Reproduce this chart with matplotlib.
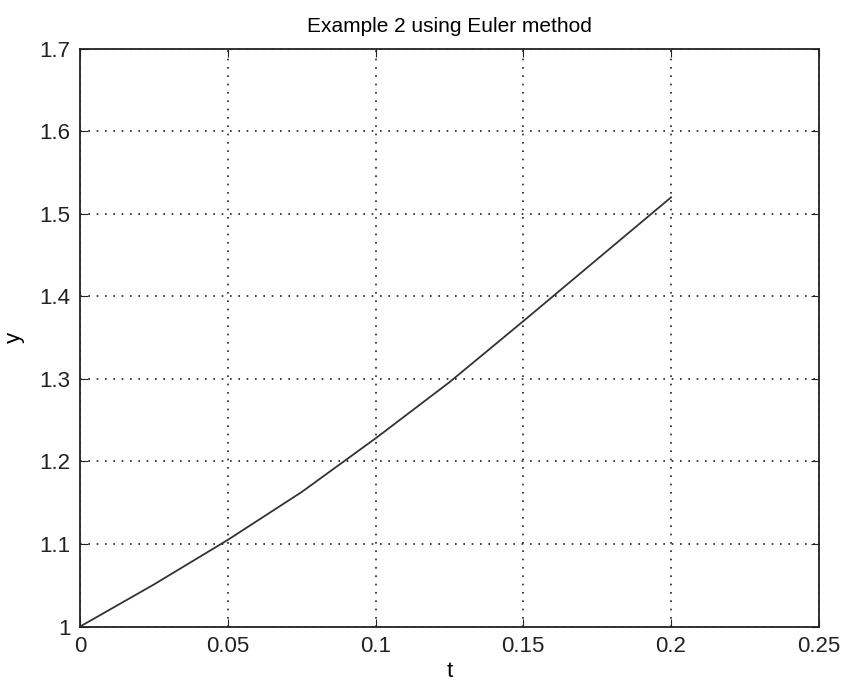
import matplotlib.pyplot as plt
import numpy as np

t = [0.0, 0.025, 0.05, 0.075, 0.1, 0.125, 0.15, 0.175, 0.2]
y = [1.0, 1.051, 1.105, 1.163, 1.228, 1.296, 1.370, 1.445, 1.520]

xticks = [0, 0.05, 0.1, 0.15, 0.2, 0.25]
xticklabels = ["0", "0.05", "0.1", "0.15", "0.2", "0.25"]
yticks = [1, 1.1, 1.2, 1.3, 1.4, 1.5, 1.6, 1.7]
yticklabels = ["1", "1.1", "1.2", "1.3", "1.4", "1.5", "1.6", "1.7"]

plt.rcParams['font.family'] = ['Liberation Sans', 'DejaVu Sans']

fig = plt.figure(figsize=(8.52, 6.87), dpi=100)
ax = fig.add_axes([0.094, 0.088, 0.867, 0.841])

ax.plot(t, y, color="#333333", linewidth=1.3)

ax.set_xlim(0, 0.25)
ax.set_ylim(1, 1.7)
ax.set_xticks(xticks)
ax.set_xticklabels(xticklabels)
ax.set_yticks(yticks)
ax.set_yticklabels(yticklabels)
ax.grid(True, color="#222222", linestyle=(0, (1, 4)), linewidth=1.2)
ax.tick_params(direction="in", length=6, labelsize=16, top=True, right=True,
               colors="#222222", pad=7)
for s in ax.spines.values():
    s.set_linewidth(1.3)
    s.set_color("#222222")

ax.set_xlabel("t", fontsize=16, labelpad=3)
ax.set_ylabel("y", fontsize=16, labelpad=10)
ax.set_title("Example 2 using Euler method", fontsize=15, pad=12)

fig.savefig("out.png", dpi=100)
